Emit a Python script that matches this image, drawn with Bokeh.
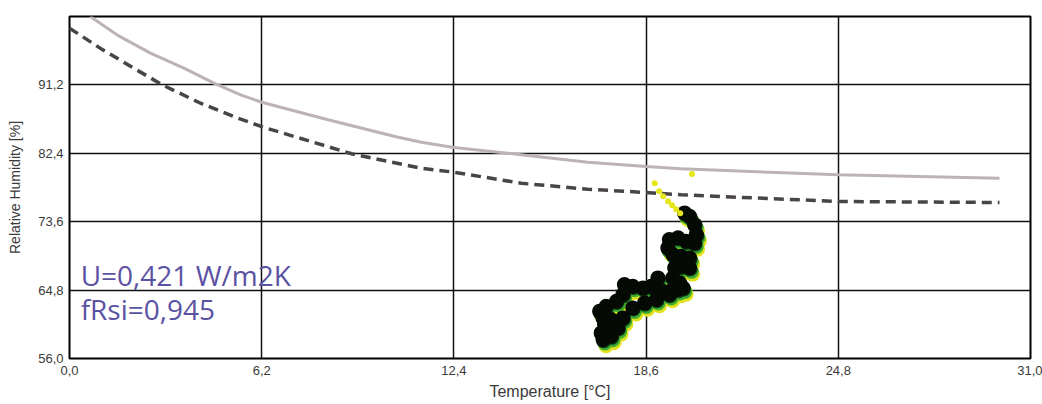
from bokeh.plotting import figure
from bokeh.models import ColumnDataSource, FixedTicker, Label, Range1d
from bokeh.transform import dodge
from bokeh.embed import file_html
from bokeh.resources import INLINE

# ---- data ----
x_ticks = [0.0, 6.2, 12.4, 18.6, 24.8, 31.0]
x_tick_labels = ["0,0", "6,2", "12,4", "18,6", "24,8", "31,0"]
y_ticks = [56.0, 64.8, 73.6, 82.4, 91.2]
y_tick_labels = ["56,0", "64,8", "73,6", "82,4", "91,2"]

solid_t = [0.67, 1.53, 2.61, 3.69, 4.66, 5.52, 6.2, 8.34, 10.5, 11.35, 12.4,
           14.14, 16.72, 18.6, 19.73, 24.8, 30.0]
solid_rh = [100.0, 97.64, 95.28, 93.35, 91.42, 89.91, 88.97, 86.71, 84.56, 83.83,
            83.15, 82.4, 81.26, 80.70, 80.40, 79.63, 79.20]

dash_t = [0.0, 0.99, 2.07, 3.04, 4.23, 5.31, 6.2, 9.1, 11.35, 12.4, 14.57,
          16.72, 18.6, 19.73, 24.8, 30.0]
dash_rh = [98.5, 95.93, 93.35, 91.11, 88.84, 87.11, 85.82, 82.34, 80.48, 79.97,
           78.55, 77.78, 77.36, 77.06, 76.20, 76.07]

meas_t = [19.84, 20.00, 20.16, 20.22, 20.16, 19.89, 19.63, 19.35, 19.30, 19.46,
          19.73, 20.00, 20.00, 19.73, 19.52, 19.46, 19.68, 19.79, 19.46, 19.14,
          18.93, 18.98, 18.76, 18.50, 18.17, 17.90, 17.85, 17.64, 17.31, 17.10,
          17.21, 17.47, 17.26, 17.15, 17.21, 17.47, 17.69, 17.85, 18.17, 18.55,
          18.93, 19.35, 19.63]
meas_rh = [74.73, 74.31, 73.24, 71.95, 70.87, 71.09, 71.52, 71.31, 70.23, 69.38,
           69.16, 68.94, 67.66, 67.87, 67.66, 66.37, 65.73, 65.08, 64.88, 64.66,
           65.08, 66.37, 65.30, 65.08, 65.30, 65.52, 64.23, 63.37, 62.73, 62.09,
           61.22, 61.02, 60.37, 59.29, 58.44, 58.87, 59.94, 61.22, 62.51, 63.15,
           63.59, 64.23, 64.88]

early_t = [18.88, 19.02, 19.15, 19.31, 19.44, 19.57, 19.70, 20.08]
early_rh = [78.55, 77.52, 76.88, 76.24, 75.72, 75.21, 74.69, 79.75]

u_text = "U=0,421 W/m2K"
f_text = "fRsi=0,945"

# ---- figure ----
p = figure(width=1042, height=404, output_backend="svg", toolbar_location=None,
           x_range=Range1d(0, 31), y_range=Range1d(56, 100),
           min_border_left=69, min_border_right=12, min_border_top=16,
           min_border_bottom=46)
p.background_fill_color = "white"
p.border_fill_color = "white"
p.outline_line_color = "black"
p.outline_line_width = 2

for ax in (p.xaxis[0], p.yaxis[0]):
    ax.major_tick_out = 0
    ax.major_tick_in = 0
    ax.minor_tick_out = 0
    ax.minor_tick_in = 0
    ax.axis_line_color = None
    ax.major_label_text_font = "Liberation Sans"
    ax.major_label_text_font_size = "13px"
    ax.major_label_text_color = "#3a3a3a"
    ax.axis_label_text_font = "Liberation Sans"
    ax.axis_label_text_font_style = "normal"
    ax.axis_label_text_color = "#3a3a3a"

p.xaxis.ticker = FixedTicker(ticks=x_ticks)
p.xaxis.major_label_overrides = dict(zip(x_ticks, x_tick_labels))
p.yaxis.ticker = FixedTicker(ticks=y_ticks)
p.yaxis.major_label_overrides = dict(zip(y_ticks, y_tick_labels))
p.xaxis.axis_label = "Temperature [°C]"
p.yaxis.axis_label = "Relative Humidity [%]"
p.xaxis.axis_label_text_font_size = "16px"
p.yaxis.axis_label_text_font_size = "14px"
p.xaxis.major_label_standoff = 7
p.xaxis.axis_label_standoff = 5
p.yaxis.major_label_standoff = 6
p.yaxis.axis_label_standoff = 12

p.xgrid.grid_line_color = "#111111"
p.ygrid.grid_line_color = "#111111"
p.xgrid.grid_line_width = 1.5
p.ygrid.grid_line_width = 1.5

# limit curves
p.line(solid_t, solid_rh, line_color="#bdb3b3", line_width=3)
p.line(dash_t, dash_rh, line_color="#4a4545", line_width=3.5, line_dash="10 6")

# measurements
src = ColumnDataSource(dict(t=meas_t, rh=meas_rh))
p.scatter(x=dodge("t", 0.1, range=p.x_range), y=dodge("rh", -0.8, range=p.y_range),
          source=src, size=15, marker="circle", fill_color="#e2e21c",
          line_color=None)
p.scatter(x=dodge("t", 0.06, range=p.x_range), y=dodge("rh", -0.45, range=p.y_range),
          source=src, size=15, marker="circle", fill_color="#3fae30",
          line_color=None)
p.scatter(x=dodge("t", 0.02, range=p.x_range), y=dodge("rh", -0.15, range=p.y_range),
          source=src, size=15, marker="circle", fill_color="#0f3a16",
          line_color=None)
p.scatter(x="t", y="rh", source=src, size=15, marker="circle",
          fill_color="#050a05", line_color=None)

p.scatter(early_t, early_rh, size=6, marker="circle", fill_color="#e6e61e",
          line_color=None)

# annotation
p.add_layout(Label(x=0.36, y=66.8, text=u_text, text_font="Open Sans",
                   text_font_size="28px", text_color="#5b52a3",
                   text_baseline="alphabetic"))
p.add_layout(Label(x=0.36, y=62.35, text=f_text, text_font="Open Sans",
                   text_font_size="28px", text_color="#5b52a3",
                   text_baseline="alphabetic"))

open("out.html", "w").write(file_html(p, INLINE))
